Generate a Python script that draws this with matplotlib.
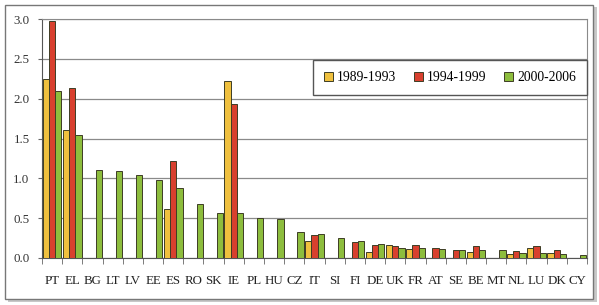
import numpy as np
import matplotlib
matplotlib.use('Agg')
import matplotlib.pyplot as plt
from matplotlib.patches import Rectangle

# data
countries = ['PT', 'EL', 'BG', 'LT', 'LV', 'EE', 'ES', 'RO', 'SK', 'IE', 'PL', 'HU', 'CZ',
             'IT', 'SI', 'FI', 'DE', 'UK', 'FR', 'AT', 'SE', 'BE', 'MT', 'NL', 'LU', 'DK', 'CY']
nan = np.nan
p1989 = [2.25, 1.61, nan, nan, nan, nan, 0.62, nan, nan, 2.22, nan, nan, nan,
         0.21, nan, nan, 0.075, 0.16, 0.11, nan, nan, 0.08, nan, 0.045, 0.12, 0.06, nan]
p1994 = [2.97, 2.13, nan, nan, nan, nan, 1.22, nan, nan, 1.93, nan, nan, nan,
         0.29, nan, 0.20, 0.16, 0.15, 0.16, 0.13, 0.097, 0.15, nan, 0.09, 0.145, 0.10, nan]
p2000 = [2.10, 1.55, 1.11, 1.09, 1.04, 0.975, 0.88, 0.68, 0.57, 0.565, 0.50, 0.49, 0.33,
         0.30, 0.255, 0.21, 0.175, 0.125, 0.13, 0.115, 0.105, 0.10, 0.10, 0.06, 0.06, 0.05, 0.04]
series = ['1989-1993', '1994-1999', '2000-2006']
colors = ['#EFC03E', '#D8402E', '#8DBD3D']

plt.rcParams['font.family'] = ['Liberation Serif', 'DejaVu Serif']

fig = plt.figure(figsize=(5.99, 3.05), dpi=100)
ax = fig.add_axes([42/599, 1-258/305, (587-42)/599, (258-19)/305])

x = np.arange(len(countries))
w = 0.31
for i, (vals, c, lab) in enumerate(zip([p1989, p1994, p2000], colors, series)):
    ax.bar(x + (i-1)*w, vals, w, color=c, edgecolor='#3d3d25', linewidth=0.7,
           label=lab, zorder=3)

ax.set_xlim(-0.5, len(countries)-0.5)
ax.set_ylim(0, 3.0)
ax.set_yticks(np.arange(0, 3.01, 0.5))
ax.set_yticklabels(['%.1f' % v for v in np.arange(0, 3.01, 0.5)])
ax.yaxis.grid(True, color='#8a8a8a', linewidth=0.9, zorder=0)

ax.set_xticks(x)
ax.set_xticklabels(countries)
ax.set_xticks(np.arange(-0.5, len(countries)), minor=True)
ax.tick_params(axis='x', which='major', length=0, pad=12, labelsize=9.3)
ax.tick_params(axis='x', which='minor', length=4, color='#666666', direction='out')
ax.tick_params(axis='y', length=3, color='#666666', pad=6, labelsize=9.3, labelcolor='#333333')
ax.tick_params(axis='x', labelcolor='#222222')

for s in ['left', 'bottom']:
    ax.spines[s].set_color('#555555')
for s in ['top', 'right']:
    ax.spines[s].set_color('#8a8a8a')

leg = ax.legend(loc='center', bbox_to_anchor=(0.497, 0.669, 0.503, 0.172), mode='expand',
                ncol=3, frameon=True, fancybox=False, edgecolor='#555555', framealpha=1,
                fontsize=9.8, handlelength=0.65, handleheight=0.65, handletextpad=0.3,
                borderaxespad=0, borderpad=0.8)
leg.get_frame().set_linewidth(1.0)

# outer frame with a small shadow
fig.patches.append(Rectangle((8/599, 1-302/305), 589/599, 295/305, transform=fig.transFigure,
                             facecolor='#c8c8c8', edgecolor='none', zorder=-3))
fig.patches.append(Rectangle((5/599, 1-299/305), 588/599, 294/305, transform=fig.transFigure,
                             facecolor='white', edgecolor='#777777', linewidth=1.0, zorder=-2))

fig.savefig('out.png', dpi=100)
